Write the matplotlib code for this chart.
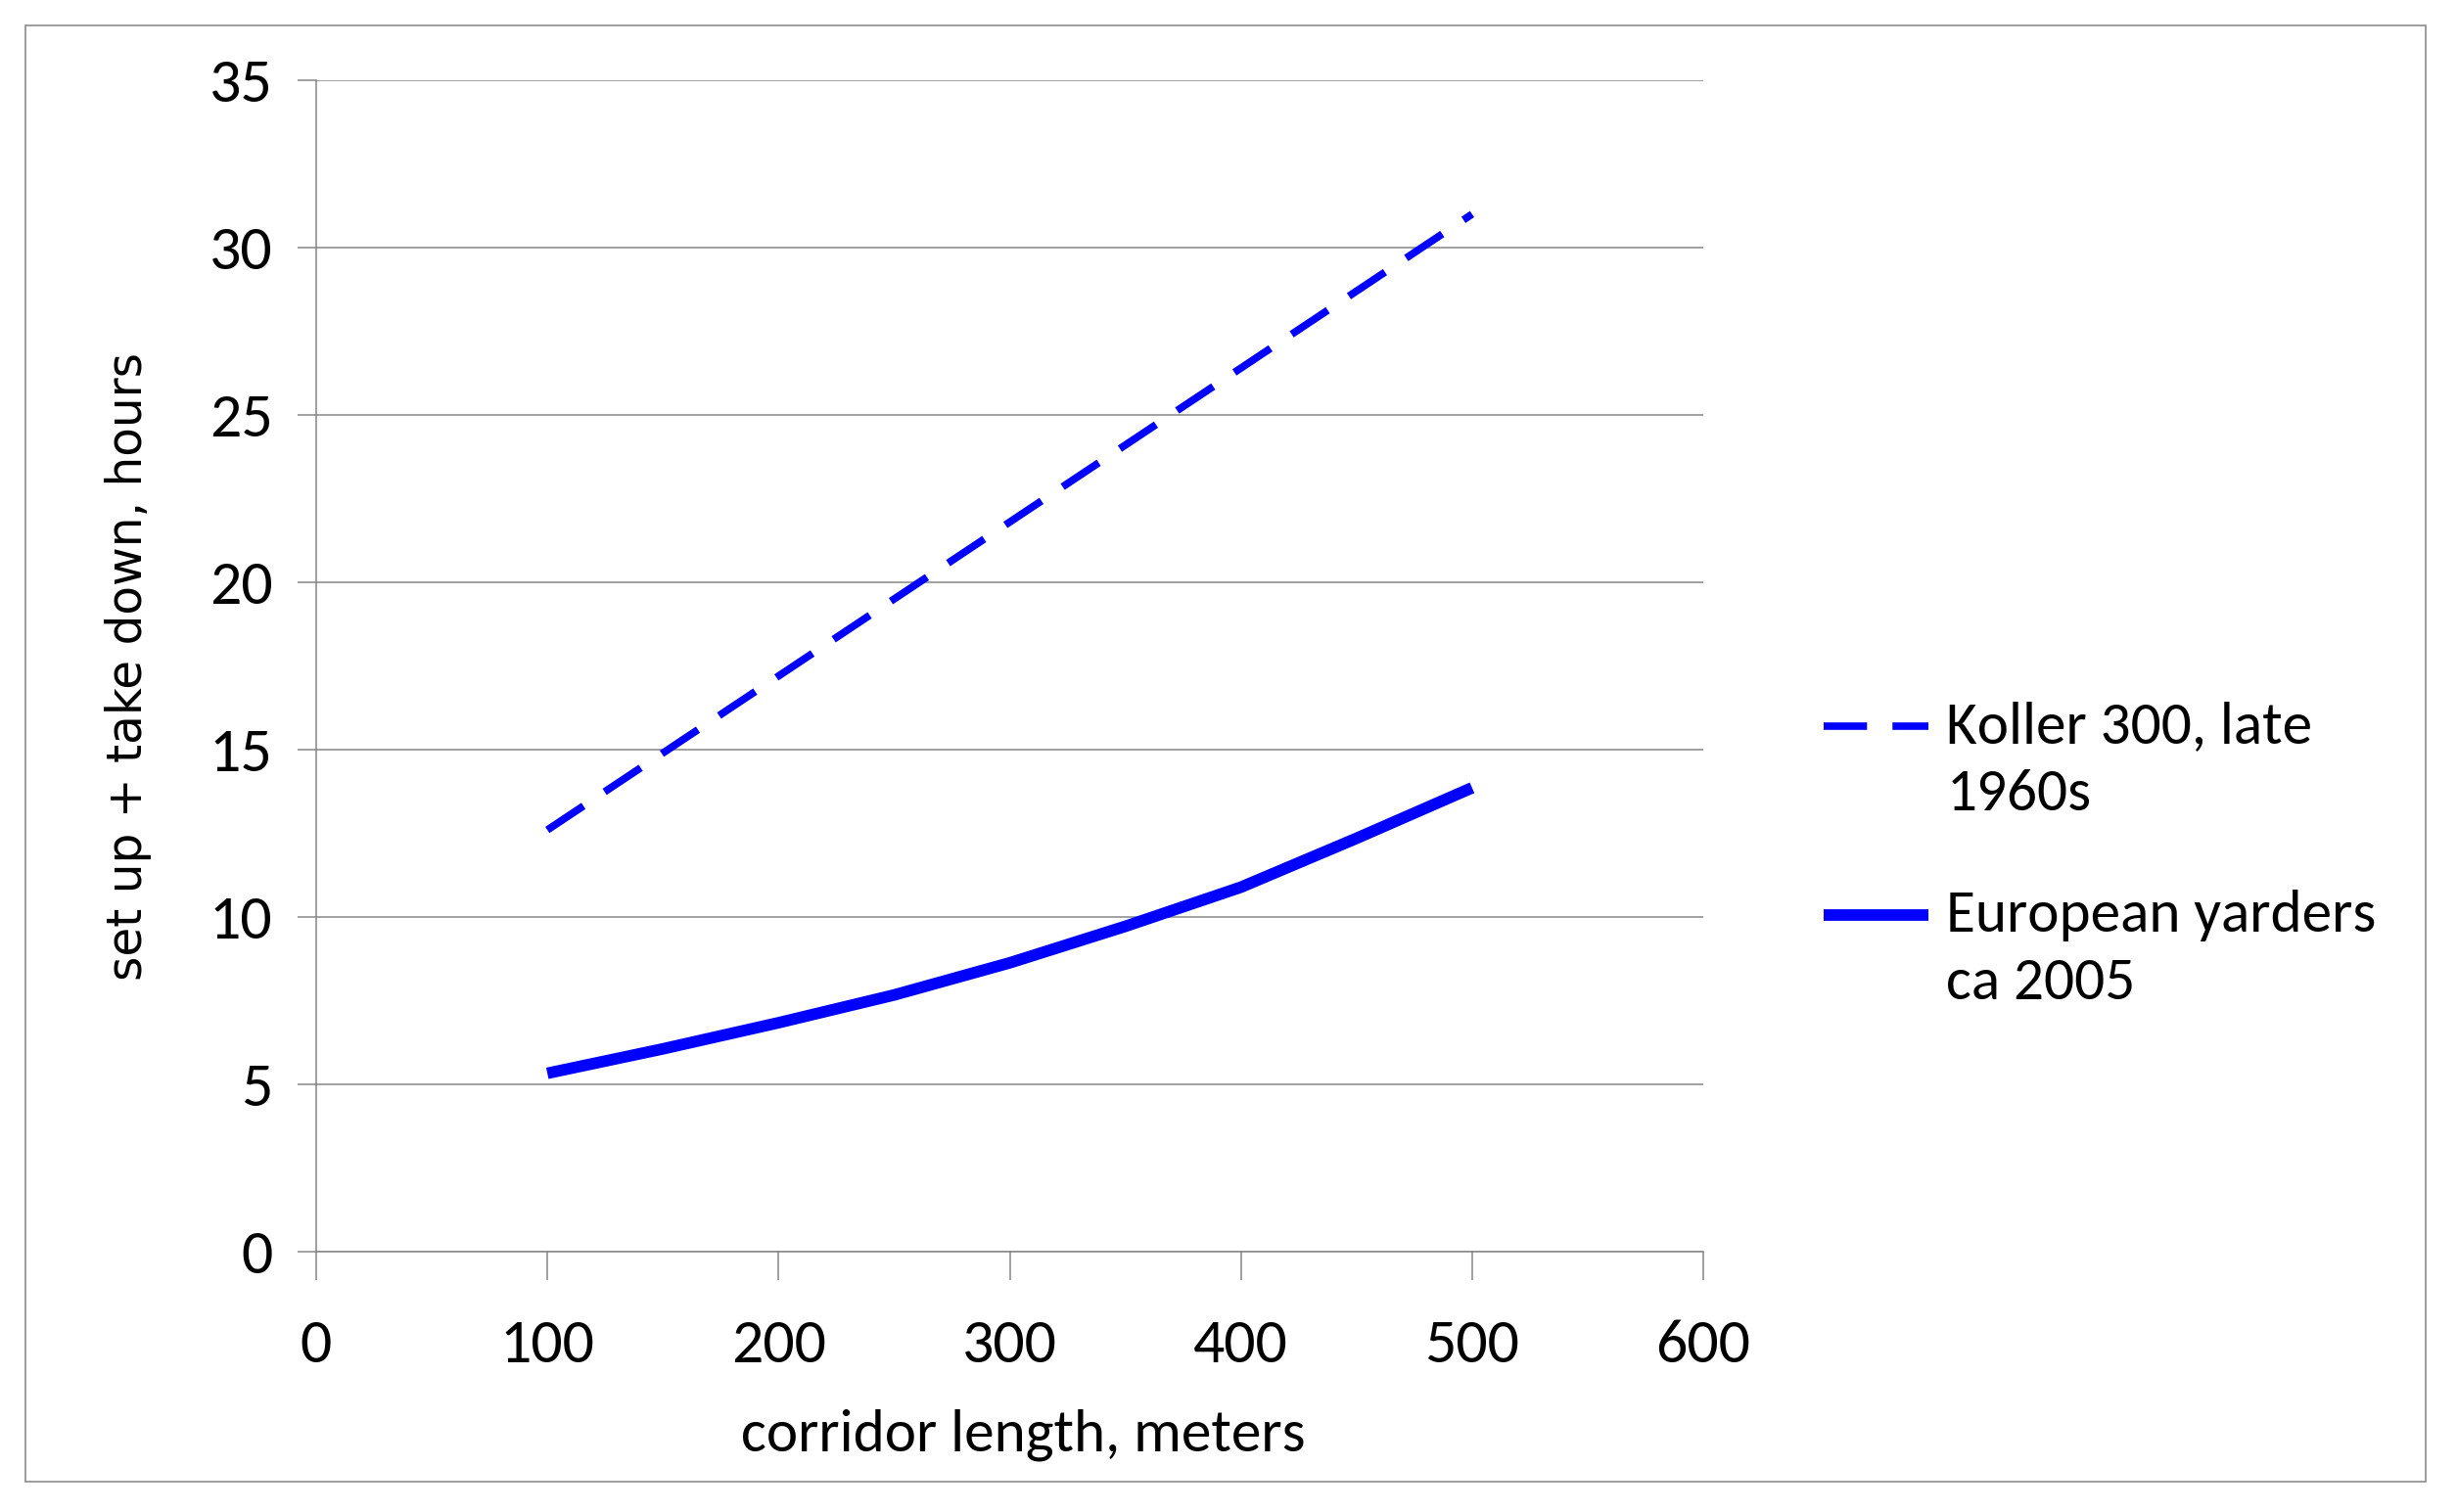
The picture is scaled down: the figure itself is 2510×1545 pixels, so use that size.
import matplotlib
matplotlib.use("Agg")
import matplotlib.pyplot as plt
from matplotlib import font_manager
from matplotlib.patches import Rectangle
from matplotlib.legend_handler import HandlerLine2D

# ---- data ----
koller_x = [100, 200, 300, 400, 500]
koller_y = [12.6, 17.2, 21.8, 26.4, 31.0]
euro_x = [100, 150, 200, 250, 300, 350, 400, 450, 500]
euro_y = [5.33, 6.06, 6.84, 7.67, 8.63, 9.72, 10.89, 12.35, 13.86]
x_ticks = [0, 100, 200, 300, 400, 500, 600]
y_ticks = [0, 5, 10, 15, 20, 25, 30, 35]
koller_label = "Koller 300, late\n1960s"
euro_label = "European yarders\nca 2005"
x_title = "corridor length, meters"
y_title = "set up + take down, hours"

avail = {f.name for f in font_manager.fontManager.ttflist}
main_font = next((f for f in ["Carlito", "Calibri", "Lato"] if f in avail), "DejaVu Sans")
plt.rcParams['font.family'] = [main_font, 'DejaVu Sans']

DPI = 100
fig = plt.figure(figsize=(25.10, 15.45), dpi=DPI)
W, H = 2510, 1545

ax = fig.add_axes([323 / W, 1 - 1279 / H, (1740 - 323) / W, (1279 - 82) / H])

grid_c = "#868686"
blue = "#0000FF"

ax.plot(koller_x, koller_y, color=blue, lw=5.5, linestyle=(0, (5.8, 3.4)),
        label=koller_label, dash_capstyle='butt', solid_capstyle='butt')
ax.plot(euro_x, euro_y, color=blue, lw=8.5, label=euro_label, solid_capstyle='butt')

ax.set_xlim(0, 600)
ax.set_ylim(0, 35)
ax.set_xticks(x_ticks)
ax.set_yticks(y_ticks)
ax.yaxis.grid(True, color=grid_c, lw=1.1)
ax.set_axisbelow(True)
for s in ["top", "right"]:
    ax.spines[s].set_visible(False)
for s in ["left", "bottom"]:
    ax.spines[s].set_color(grid_c)
    ax.spines[s].set_linewidth(1.1)
ax.tick_params(axis='x', direction='out', length=21, width=1.1, color=grid_c,
               pad=29, labelsize=46)
ax.tick_params(axis='y', direction='out', length=14, width=1.1, color=grid_c,
               pad=18, labelsize=46)
ax.set_xlabel(x_title, fontsize=44, labelpad=27)
ax.xaxis.label.set_x(0.51)
ax.set_ylabel(y_title, fontsize=35, family=['DejaVu Sans'], labelpad=42)


class FirstLineHandler(HandlerLine2D):
    """Place the legend key level with the first line of a two-line label."""
    def __init__(self, shift, **kw):
        super().__init__(**kw)
        self.shift = shift

    def create_artists(self, legend, orig_handle, xdescent, ydescent, width,
                       height, fontsize, trans):
        return super().create_artists(legend, orig_handle, xdescent,
                                      ydescent - 2 * self.shift, width, height,
                                      fontsize, trans)


LEG_FS = 44
LEG_LS = 1.37
handles, labels = ax.get_legend_handles_labels()
shift = 0.5 * LEG_LS * 0.842 * LEG_FS
leg = ax.legend(handles, labels, loc='upper left',
                bbox_to_anchor=(1863 / W, 1 - 716 / H),
                bbox_transform=fig.transFigure, frameon=False, fontsize=LEG_FS,
                handlelength=1.75, handletextpad=0.3, labelspacing=1.17,
                borderaxespad=0, borderpad=0,
                handler_map={h: FirstLineHandler(shift) for h in handles})
for t in leg.get_texts():
    t.set_linespacing(LEG_LS)

fig.patches.append(Rectangle((26 / W, 1 - 1514 / H), (2478 - 26) / W, (1514 - 26) / H,
                             transform=fig.transFigure, fill=False,
                             edgecolor="#8c8c8c", lw=1.2))

fig.savefig("out.png", dpi=DPI, facecolor="white")
